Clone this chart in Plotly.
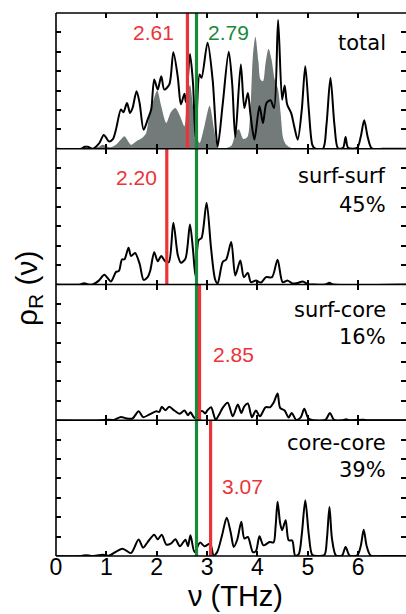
import plotly.graph_objects as go
from plotly.subplots import make_subplots

# ---------------- data (frequency in THz, density in arbitrary units) ----------------
total_x = [0, 0.5, 0.57, 0.63, 0.73, 0.86, 0.95, 1.05, 1.13, 1.19, 1.29, 1.34, 1.41, 1.47, 1.52, 1.60,
           1.66, 1.74, 1.82, 1.89, 1.95, 2.02, 2.09, 2.15, 2.25, 2.33, 2.42, 2.48, 2.55, 2.58, 2.66,
           2.72, 2.77, 2.85, 2.89, 3.01, 3.11, 3.21, 3.31, 3.43, 3.50, 3.56, 3.67, 3.74, 3.81, 3.86,
           3.94, 4.04, 4.11, 4.18, 4.26, 4.33, 4.41, 4.49, 4.54, 4.59, 4.67, 4.73, 4.80, 4.88, 4.95,
           5.02, 5.09, 5.14, 5.30, 5.37, 5.45, 5.53, 5.60, 5.70, 5.75, 5.80, 5.98, 6.05, 6.12, 6.19,
           6.27, 6.50, 7.0]
total_y = [0, 0, 0.1, 0.1, 0, 0.29, 0.71, 0.38, 0.5, 0.98, 2.02, 1.88, 2.36, 1.84, 2.1, 2.97,
           2.36, 0.98, 1.5, 2.02, 3.57, 3.05, 3.74, 3.05, 3.31, 4.97, 3.66, 2.29, 2.84, 2.4, 4.88,
           3.4, 0.6, 3.83, 3.66, 5.47, 3.57, 0.12, 2.29, 5.0, 3.3, 0.6, 4.34, 2.1, 2.88, 1.8,
           0.47, 2.19, 1.33, 2.36, 2.5, 2.1, 6.64, 2.53, 3.26, 2.28, 1.84, 1.16, 0.47, 2.0, 4.26,
           2.0, 0.2, 0.02, 0, 1.2, 3.66, 1.2, 0.02, 0.05, 0.6, 0.05, 0.05, 0.6, 1.47, 0.6,
           0.02, 0, 0]

ref_x = [0, 0.5, 0.73, 0.85, 0.93, 1.01, 1.09, 1.19, 1.28, 1.36, 1.44, 1.49, 1.59, 1.71, 1.79, 1.85,
         1.95, 2.01, 2.09, 2.19, 2.28, 2.37, 2.46, 2.55, 2.60, 2.66, 2.72, 2.78, 2.85, 2.95, 3.05,
         3.14, 3.22, 3.35, 3.48, 3.58, 3.63, 3.72, 3.80, 3.86, 3.91, 3.96, 4.02, 4.06, 4.11, 4.16,
         4.22, 4.28, 4.34, 4.41, 4.46, 4.51, 4.57, 4.66, 4.74, 7.0]
ref_y = [0, 0, 0.02, 0.1, 0.2, 0.12, 0.08, 0.2, 0.45, 0.64, 0.35, 0.2, 0.38, 0.55, 0.81, 1.67,
         2.62, 3.0, 2.19, 1.33, 1.88, 2.1, 1.7, 1.16, 2.6, 3.3, 2.2, 0.8, 0.3, 1.2, 2.22,
         1.0, 0.05, 0.02, 0.15, 0.9, 1.0, 0.5, 0.6, 2.0, 4.8, 5.78, 4.5, 3.57, 3.48, 4.4,
         5.16, 4.6, 3.6, 3.05, 1.84, 0.55, 0.2, 0.05, 0, 0]

ss_x = [0, 0.48, 0.56, 0.65, 0.73, 0.85, 0.96, 1.09, 1.19, 1.25, 1.31, 1.36, 1.44, 1.49, 1.57, 1.66,
        1.74, 1.82, 1.87, 1.95, 2.02, 2.09, 2.17, 2.24, 2.33, 2.42, 2.48, 2.57, 2.66, 2.72, 2.77,
        2.83, 2.89, 2.99, 3.08, 3.16, 3.21, 3.31, 3.38, 3.48, 3.56, 3.66, 3.73, 3.81, 3.87, 3.97,
        4.07, 4.17, 4.29, 4.40, 4.50, 4.60, 4.70, 4.80, 4.90, 5.0, 5.1, 5.35, 5.43, 5.5, 7.0]
ss_y = [0, 0, 0.07, 0, 0, 0.2, 0.5, 0.16, 0.64, 0.7, 1.29, 1.3, 1.9, 1.47, 1.62, 1.07,
        0.24, 0.38, 0.7, 1.66, 1.2, 1.47, 1.19, 1.15, 3.19, 1.5, 1.12, 1.33, 3.1, 1.8, 0.43,
        2.28, 2.4, 4.22, 1.84, 0.26, 0.05, 1.16, 1.29, 2.19, 0.47, 1.24, 0.38, 0.6, 0.12, 0.2,
        0.1, 0.38, 0.38, 1.28, 0.12, 0.2, 0.05, 0.08, 0.16, 0.02, 0, 0, 0.09, 0, 0]

sc_x = [0, 0.9, 1.0, 1.15, 1.29, 1.39, 1.52, 1.64, 1.73, 1.85, 1.99, 2.05, 2.10, 2.17, 2.25, 2.35,
        2.45, 2.55, 2.62, 2.67, 2.75, 2.83, 2.91, 2.96, 3.01, 3.08, 3.17, 3.24, 3.31, 3.41, 3.51,
        3.61, 3.68, 3.74, 3.81, 3.89, 3.97, 4.05, 4.16, 4.25, 4.32, 4.40, 4.45, 4.54, 4.62, 4.68,
        4.77, 4.86, 4.93, 5.01, 5.1, 5.35, 5.44, 5.52, 5.7, 5.76, 5.82, 6.1, 6.2, 7.0]
sc_y = [0, 0, 0.03, 0.02, 0.17, 0.1, 0.09, 0.47, 0.16, 0.29, 0.47, 0.43, 0.69, 0.52, 0.69, 0.5,
        0.33, 0.5, 0.26, 0.41, 0.12, 0.4, 0.47, 0.35, 0.52, 0.67, 0.03, 0.3, 0.64, 0.9, 0.2,
        0.81, 0.38, 0.72, 0.86, 0.16, 0.5, 0.2, 0.67, 0.67, 0.9, 1.38, 0.64, 0.5, 0.14, 0.38,
        0.02, 0.15, 0.59, 0.1, 0, 0.02, 0.38, 0.02, 0, 0.05, 0, 0.02, 0, 0]

cc_x = [0, 0.5, 0.6, 0.7, 0.93, 1.05, 1.32, 1.49, 1.64, 1.73, 1.82, 1.95, 2.02, 2.10, 2.19, 2.28,
        2.37, 2.46, 2.57, 2.62, 2.67, 2.75, 2.86, 2.95, 3.06, 3.13, 3.20, 3.30, 3.39, 3.47, 3.53,
        3.60, 3.68, 3.74, 3.81, 3.91, 3.97, 4.04, 4.12, 4.24, 4.32, 4.36, 4.40, 4.45, 4.49, 4.56,
        4.62, 4.69, 4.75, 4.82, 4.88, 4.95, 5.02, 5.09, 5.2, 5.33, 5.38, 5.43, 5.48, 5.56, 5.68,
        5.75, 5.83, 5.98, 6.05, 6.11, 6.17, 6.25, 6.5, 7.0]
cc_y = [0, 0, 0.04, 0, 0.06, 0.02, 0.38, 0.15, 0.85, 0.43, 0.72, 1.1, 0.86, 1.1, 0.59, 0.64,
        0.86, 0.5, 0.84, 0.5, 1.07, 0.2, 0.69, 0.5, 0.64, 0.03, 0.2, 1.1, 1.97, 1.2, 0.47,
        0.85, 1.76, 0.9, 0.98, 0.2, 0.25, 1.02, 0.55, 0.72, 0.7, 1.5, 2.8, 1.7, 1.33, 1.84,
        0.81, 0.8, 0.02, 0.1, 1.1, 2.88, 1.1, 0.05, 0, 0.05, 0.9, 2.53, 0.9, 0.02, 0.02,
        0.47, 0.02, 0.03, 0.5, 1.36, 0.5, 0.02, 0, 0]

panel_names = ["total", "surf-surf", "surf-core", "core-core"]
panel_shares = ["", "45%", "16%", "39%"]
mean_freq = [2.61, 2.20, 2.85, 3.07]   # red lines
overall_mean = 2.79                    # green line
x_ticks = [0, 1, 2, 3, 4, 5, 6]

# ---------------- styling ----------------
RED = "#ec3338"
GREEN = "#19893c"
GRAY = "#727a7a"
W, H = 406, 614
ML, MR, MT, MB = 56, 0, 13, 58
PW, PH = W - ML - MR, H - MT - MB


def px(xp):
    return (xp - ML) / PW


def py(yp):
    return (H - MB - yp) / PH


fig = make_subplots(rows=4, cols=1, shared_xaxes=True, vertical_spacing=0)

fig.add_trace(go.Scatter(x=ref_x, y=ref_y, mode="lines", fill="tozeroy", fillcolor=GRAY,
                         line=dict(width=0, color=GRAY, shape="spline", smoothing=0.8),
                         hoverinfo="skip"), row=1, col=1)

curves = [(total_x, total_y), (ss_x, ss_y), (sc_x, sc_y), (cc_x, cc_y)]
for i, (cx, cy) in enumerate(curves):
    r = i + 1
    fig.add_trace(go.Scatter(x=cx, y=cy, mode="lines",
                             line=dict(color="black", width=2, shape="spline", smoothing=0.8)),
                  row=r, col=1)
    fig.add_trace(go.Scatter(x=[overall_mean, overall_mean], y=[0, 7], mode="lines",
                             line=dict(color=GREEN, width=3.2)), row=r, col=1)
    fig.add_trace(go.Scatter(x=[mean_freq[i], mean_freq[i]], y=[0, 7], mode="lines",
                             line=dict(color=RED, width=3.2)), row=r, col=1)

for r in range(1, 5):
    fig.update_xaxes(range=[0, 6.95], tickvals=x_ticks, ticks="inside", ticklen=5, tickwidth=1.5,
                     tickcolor="black", showline=False, mirror="ticks",
                     showgrid=False, zeroline=False,
                     showticklabels=(r == 4), ticklabelstandoff=-5,
                     tickfont=dict(family="Liberation Sans, Arial", size=23, color="black"),
                     row=r, col=1)
    fig.update_yaxes(range=[0, 7], tickvals=[1, 2, 3, 4, 5, 6], ticks="inside", ticklen=5,
                     tickwidth=1.5, tickcolor="black", showline=False, mirror="ticks",
                     showgrid=False, zeroline=False, showticklabels=False, row=r, col=1)

# frame lines (left border and panel separators)
fig.add_shape(type="line", xref="paper", yref="paper", x0=0, x1=0, y0=0, y1=1,
              line=dict(color="black", width=1.6))
for yb in [0, 0.25, 0.5, 0.75, 1.0]:
    fig.add_shape(type="line", xref="paper", yref="paper", x0=0, x1=1, y0=yb, y1=yb,
                  line=dict(color="black", width=1.6))

annots = []
lab_font = dict(family="DejaVu Sans", size=21, color="black")
num_font = dict(family="Liberation Sans, Arial", size=21, color=RED)
# panel labels
label_pos = [(43, None), (176, 205), (310, 337), (443, 470)]
for i, (y1, y2) in enumerate(label_pos):
    annots.append(dict(text=panel_names[i], x=px(388), y=py(y1), xanchor="right", yanchor="middle",
                       font=lab_font))
    if y2 is not None:
        annots.append(dict(text=panel_shares[i], x=px(388), y=py(y2), xanchor="right",
                           yanchor="middle", font=lab_font))
# mean-frequency labels
annots.append(dict(text=f"{mean_freq[0]:.2f}", x=px(176), y=py(32), xanchor="right",
                   yanchor="middle", font=num_font))
annots.append(dict(text=f"{overall_mean:.2f}", x=px(206), y=py(32), xanchor="left",
                   yanchor="middle", font=dict(num_font, color=GREEN)))
annots.append(dict(text=f"{mean_freq[1]:.2f}", x=px(114), y=py(177), xanchor="left",
                   yanchor="middle", font=num_font))
annots.append(dict(text=f"{mean_freq[2]:.2f}", x=px(211), y=py(354), xanchor="left",
                   yanchor="middle", font=num_font))
annots.append(dict(text=f"{mean_freq[3]:.2f}", x=px(220), y=py(486), xanchor="left",
                   yanchor="middle", font=num_font))
# axis titles
annots.append(dict(text="ρ<sub>R</sub> (ν)", x=px(29), y=py(288), xanchor="center",
                   yanchor="middle", textangle=-90,
                   font=dict(family="Liberation Sans, Arial", size=30, color="black")))
annots.append(dict(text="ν (THz)", x=px(235), y=py(596), xanchor="center", yanchor="middle",
                   font=dict(family="Liberation Sans, Arial", size=29, color="black")))
for a in annots:
    a.update(xref="paper", yref="paper", showarrow=False)

fig.update_layout(width=W, height=H, margin=dict(l=ML, r=MR, t=MT, b=MB),
                  paper_bgcolor="white", plot_bgcolor="white", showlegend=False,
                  annotations=annots)

fig.write_html("out.html")
